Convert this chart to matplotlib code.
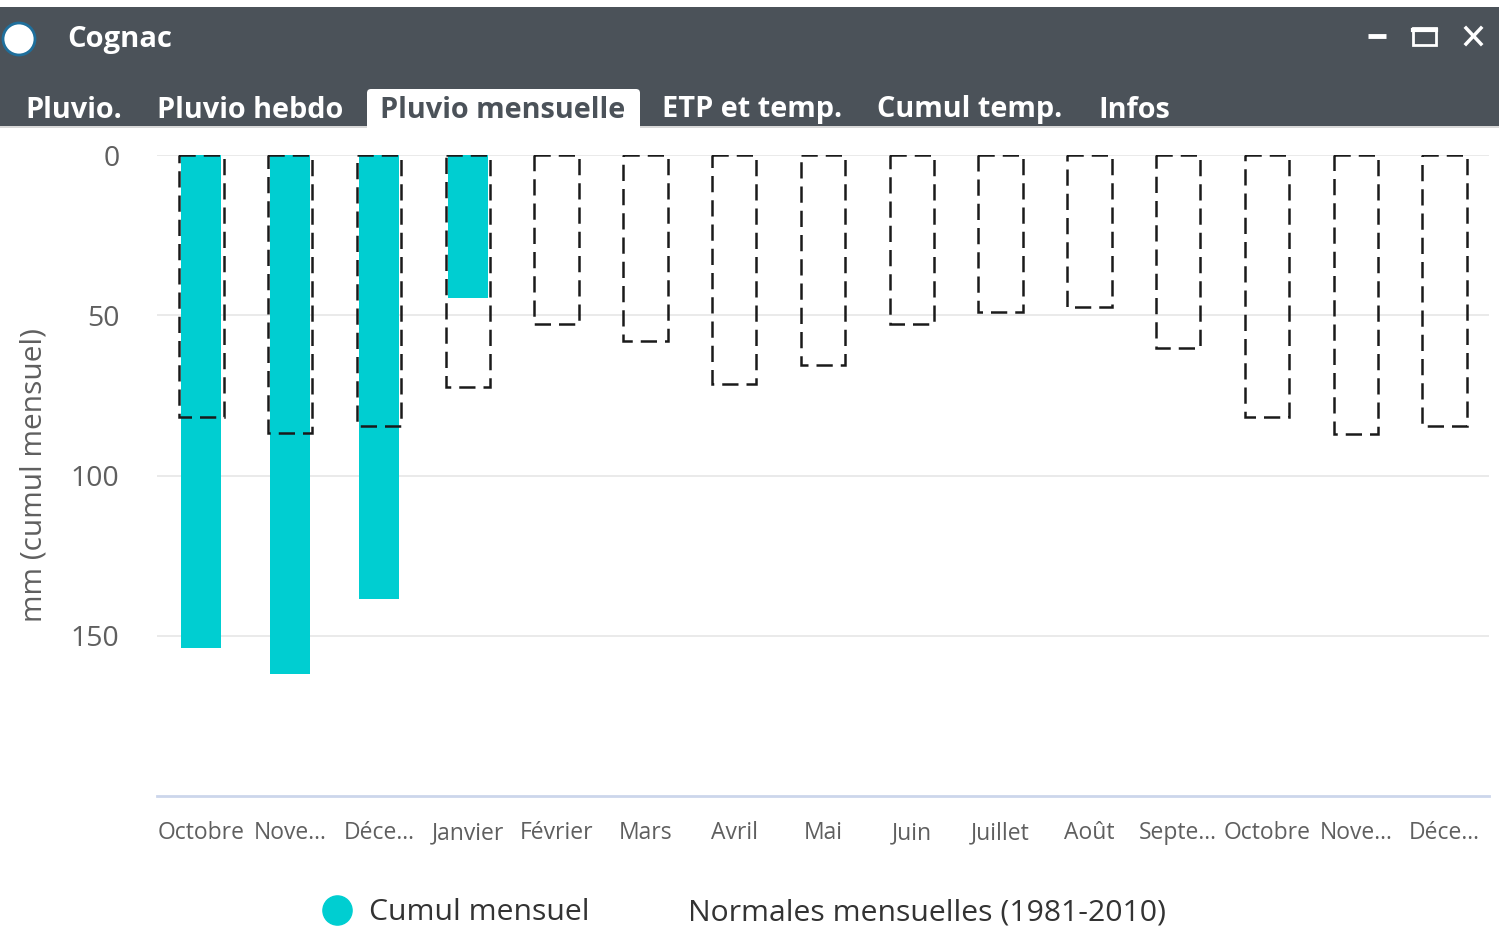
import matplotlib
matplotlib.use("Agg")
import matplotlib.pyplot as plt
from matplotlib.patches import Rectangle, FancyBboxPatch, Circle
from matplotlib.lines import Line2D
import numpy as np

plt.rcParams['font.family'] = ['Open Sans', 'DejaVu Sans']

# ---- data ----
categories = ["Octobre", "Nove...", "Déce...", "Janvier", "Février", "Mars", "Avril",
              "Mai", "Juin", "Juillet", "Août", "Septe...", "Octobre", "Nove...", "Déce..."]
cumul_mensuel = [153.9, 162.0, 138.5, 44.6]
normales = [81.6, 86.8, 84.4, 72.3, 52.6, 58.0, 71.6, 65.5, 52.6, 49.0, 47.3, 60.3, 81.6, 86.9, 84.5]
y_ticks = [0, 50, 100, 150]
window_title = "Cognac"
tabs = ["Pluvio.", "Pluvio hebdo", "Pluvio mensuelle", "ETP et temp.", "Cumul temp.", "Infos"]
tab_x = [25, 157, 380, 662, 877, 1098]
selected_tab = 2
legend_labels = ["Cumul mensuel", "Normales mensuelles (1981-2010)"]

W, H = 1499, 926
fig = plt.figure(figsize=(W / 100, H / 100), dpi=100)
fig.patch.set_facecolor("white")

CYAN = "#00CED1"
TXT = "#5f5f5f"
HEADER = "#4b5259"

# ---- chart axes ----
ax = fig.add_axes([157 / W, 1 - 796 / H, (1489 - 157) / W, (796 - 155) / H])
x = np.arange(len(categories))
ax.bar(x[:len(cumul_mensuel)], cumul_mensuel, width=0.45, color=CYAN, zorder=2, linewidth=0)
ax.bar(x, normales, width=0.5, fill=False, edgecolor="#1a1a1a", linewidth=1.8,
       linestyle=(0, (6.5, 3.2)), zorder=3)
ax.set_xlim(-0.5, len(categories) - 0.5)
ax.set_ylim(200, 0)
ax.set_yticks(y_ticks)
ax.set_xticks(x)
ax.set_xticklabels(categories, fontsize=16.5, color=TXT)
ax.tick_params(axis='y', length=0, pad=27, labelsize=20.5, labelcolor=TXT)
ax.tick_params(axis='x', length=0, pad=18)
ax.grid(axis='y', color="#e6e6e6", linewidth=1.2, zorder=0)
ax.set_axisbelow(True)
for s in ["top", "left", "right"]:
    ax.spines[s].set_visible(False)
ax.spines["bottom"].set_color("#ccd6eb")
ax.spines["bottom"].set_linewidth(2)
ax.set_ylabel("mm (cumul mensuel)", fontsize=21.5, color=TXT)
ax.yaxis.set_label_coords(-108 / (1489 - 157), 0.5)

# ---- legend ----
handles = [Line2D([], [], marker='o', linestyle='none', markersize=21, color=CYAN),
           Line2D([], [], linestyle='none')]
leg = fig.legend(handles, legend_labels, loc='center', ncol=2, frameon=False,
                 bbox_to_anchor=(744 / W, 1 - 913 / H), fontsize=21.7,
                 labelcolor="#333333", handlelength=1.0, handletextpad=0.55,
                 columnspacing=1.72)

# ---- window header (overlay in pixel coords) ----
ov = fig.add_axes([0, 0, 1, 1], zorder=-1)
ov.set_xlim(0, W)
ov.set_ylim(H, 0)
ov.axis('off')
ov.add_patch(Rectangle((0, 7), W, 120, color=HEADER, linewidth=0))
ov.add_patch(Rectangle((0, 126), W, 2, color="#d9d9d9", linewidth=0))
ov.add_patch(FancyBboxPatch((367, 89), 273, 45, boxstyle="round,pad=0,rounding_size=4",
                            color="white", linewidth=0))
ov.add_patch(Circle((19, 39), 16, facecolor="white", edgecolor="#1f6f9c", linewidth=2))
ov.text(67, 40, window_title, color="white", fontsize=21, fontweight='bold', va='center', ha='left')
for i, (t, tx) in enumerate(zip(tabs, tab_x)):
    ov.text(tx, 110, t, color=(HEADER if i == selected_tab else "white"), fontsize=20.8,
            fontweight='bold', va='center', ha='left')
# window controls
ov.plot([1368, 1386], [36, 36], color="white", linewidth=3.5, solid_capstyle='butt')
ov.add_patch(Rectangle((1413, 28), 23, 17, fill=False, edgecolor="white", linewidth=2))
ov.plot([1413, 1436], [29.5, 29.5], color="white", linewidth=3)
ov.plot([1466, 1481], [28, 44], color="white", linewidth=2.5)
ov.plot([1466, 1481], [44, 28], color="white", linewidth=2.5)

fig.savefig("out.png", dpi=100, facecolor="white")
